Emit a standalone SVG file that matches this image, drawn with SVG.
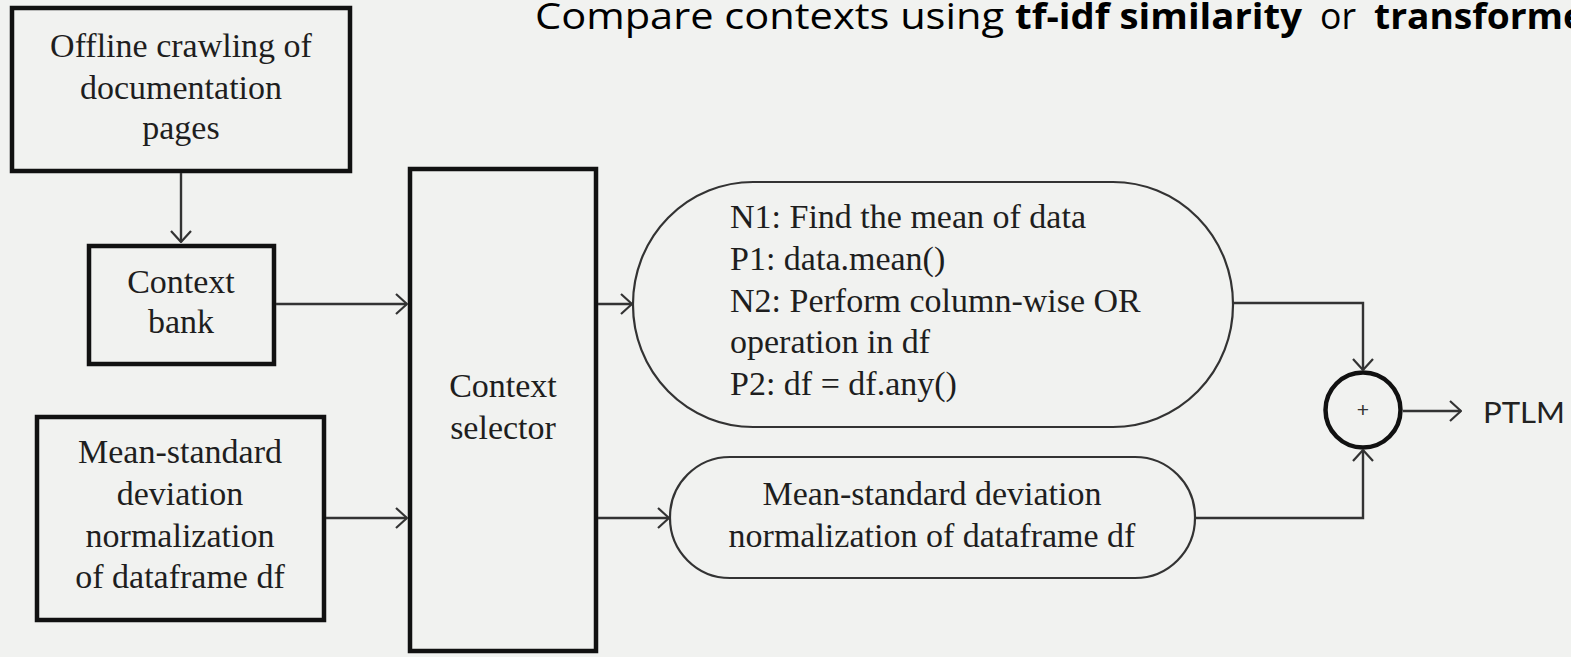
<svg xmlns="http://www.w3.org/2000/svg" width="1571" height="657" viewBox="0 0 1571 657">
<style>
.bg{fill:#f1f2f0}
.box{fill:none;stroke:#111;stroke-width:4.5}
.pill{fill:none;stroke:#333;stroke-width:2.2}
.conn{fill:none;stroke:#333;stroke-width:2.4}
.serif{font-family:"Liberation Serif","Times New Roman",serif;font-size:34px;fill:#1e1e1e}
.mid{text-anchor:middle}
.title{font-family:"Open Sans","Liberation Sans",sans-serif;font-size:36px;fill:#000}
.b{font-weight:bold}
</style>
<defs>
<marker id="arr" viewBox="0 0 13 22" refX="12" refY="11" markerWidth="13" markerHeight="22" markerUnits="userSpaceOnUse" orient="auto">
<path d="M1,1 L12,11 L1,21" fill="none" stroke="#333" stroke-width="2.2"/>
</marker>
</defs>
<rect class="bg" x="0" y="0" width="1571" height="657"/>

<g id="title">
<text class="title" x="535" y="29" textLength="469" lengthAdjust="spacingAndGlyphs">Compare contexts using</text>
<text class="title b" x="1015" y="29" textLength="287" lengthAdjust="spacingAndGlyphs">tf-idf similarity</text>
<text class="title" x="1320" y="29" textLength="36" lengthAdjust="spacingAndGlyphs">or</text>
<text class="title b" x="1374" y="29" textLength="211" lengthAdjust="spacingAndGlyphs">transforme</text>
</g>

<g id="offline">
<rect class="box" x="12" y="8" width="338" height="163"/>
<text class="serif mid" x="181" y="57">Offline crawling of</text>
<text class="serif mid" x="181" y="99">documentation</text>
<text class="serif mid" x="181" y="139">pages</text>
</g>

<g id="context-bank">
<rect class="box" x="89" y="246" width="185" height="118"/>
<text class="serif mid" x="181" y="293">Context</text>
<text class="serif mid" x="181" y="333">bank</text>
</g>

<g id="normalization">
<rect class="box" x="37" y="417" width="287" height="203"/>
<text class="serif mid" x="180" y="463">Mean-standard</text>
<text class="serif mid" x="180" y="505">deviation</text>
<text class="serif mid" x="180" y="547">normalization</text>
<text class="serif mid" x="180" y="588">of dataframe df</text>
</g>

<g id="context-selector">
<rect class="box" x="410" y="169" width="186" height="482"/>
<text class="serif mid" x="503" y="397">Context</text>
<text class="serif mid" x="503" y="439">selector</text>
</g>

<g id="examples">
<rect class="pill" x="633" y="182" width="600" height="245" rx="120" ry="122"/>
<text class="serif" x="730" y="228">N1: Find the mean of data</text>
<text class="serif" x="730" y="270">P1: data.mean()</text>
<text class="serif" x="730" y="312">N2: Perform column-wise OR</text>
<text class="serif" x="730" y="353">operation in df</text>
<text class="serif" x="730" y="395">P2: df = df.any()</text>
</g>

<g id="query">
<rect class="pill" x="670" y="457" width="525" height="121" rx="60" ry="60"/>
<text class="serif mid" x="932" y="505">Mean-standard deviation</text>
<text class="serif mid" x="932" y="547">normalization of dataframe df</text>
</g>

<g id="sum">
<circle cx="1363" cy="410" r="37.5" fill="none" stroke="#111" stroke-width="4.5"/>
<text x="1363" y="417" text-anchor="middle" font-family="Liberation Sans, Arial, sans-serif" font-size="21" fill="#333">+</text>
</g>

<g id="ptlm">
<text x="1483" y="423" font-family="Lato, 'Open Sans', sans-serif" font-size="29" fill="#222" textLength="82" lengthAdjust="spacingAndGlyphs">PTLM</text>
</g>

<g id="connectors">
<path class="conn" d="M181,173 V242" marker-end="url(#arr)"/>
<path class="conn" d="M276,304 H407" marker-end="url(#arr)"/>
<path class="conn" d="M326,518 H407" marker-end="url(#arr)"/>
<path class="conn" d="M598,304 H632" marker-end="url(#arr)"/>
<path class="conn" d="M598,518 H669" marker-end="url(#arr)"/>
<path class="conn" d="M1233,303 H1363 V370" marker-end="url(#arr)"/>
<path class="conn" d="M1195,518 H1363 V450" marker-end="url(#arr)"/>
<path class="conn" d="M1403,411 H1461" marker-end="url(#arr)"/>
</g>
</svg>
